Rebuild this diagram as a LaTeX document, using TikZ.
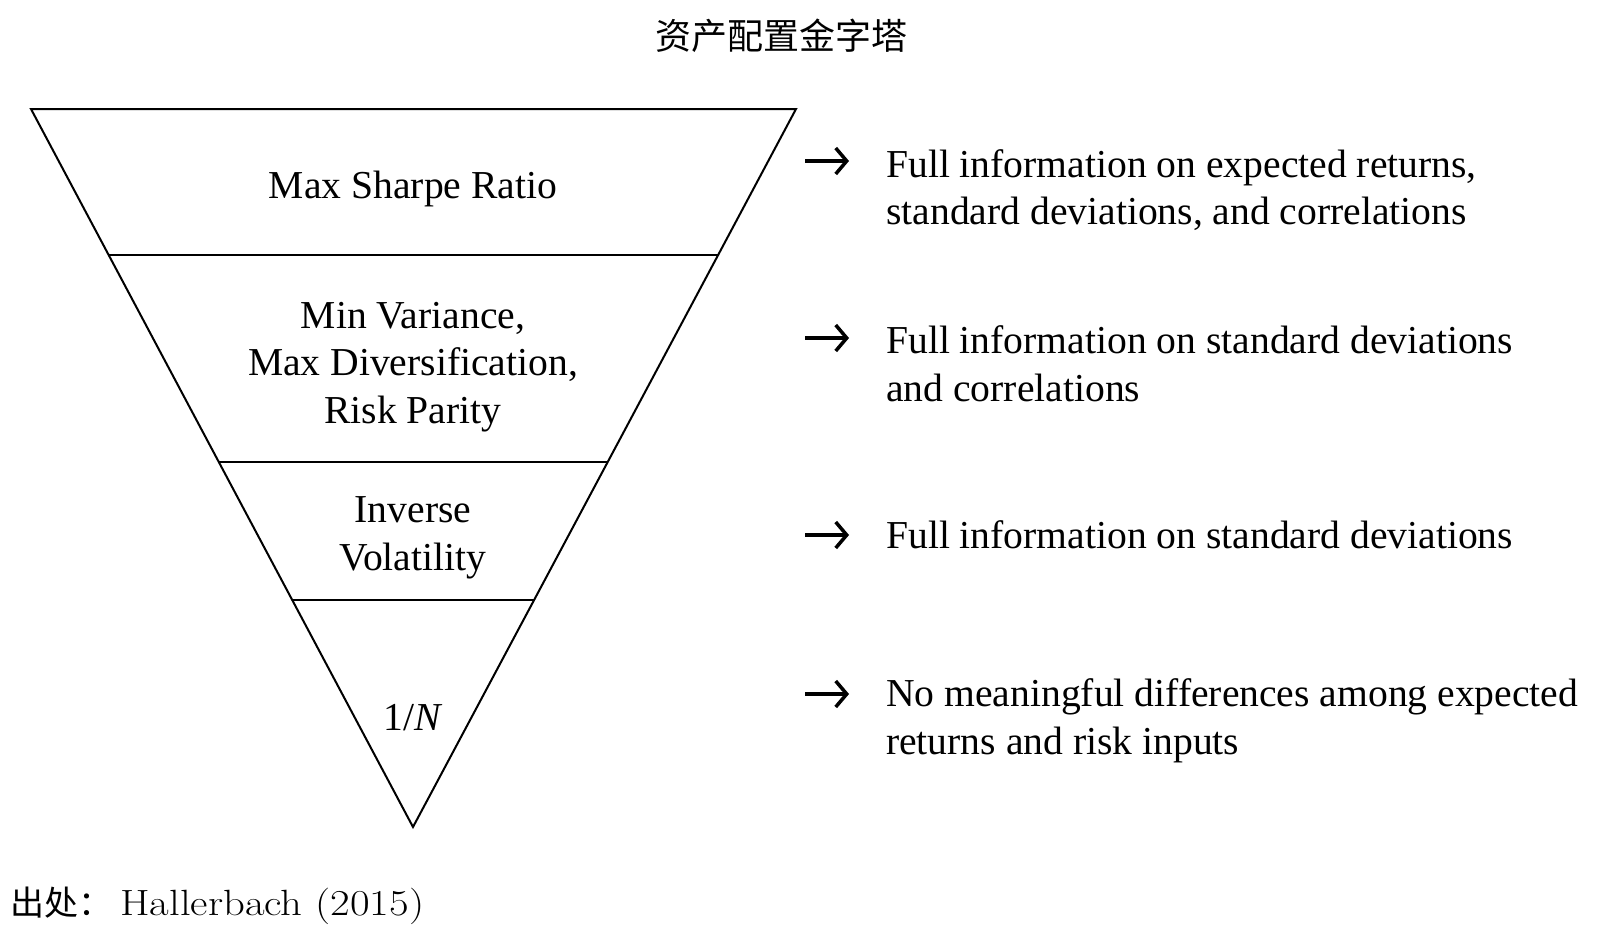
\documentclass[tikz,border=0pt]{standalone}
\usepackage{fontspec}
\usetikzlibrary{arrows.meta}
\setmainfont{Liberation Serif}
\newfontfamily\cjk{Noto Sans CJK SC}
\newfontfamily\cmwide[FakeStretch=1.17]{Latin Modern Roman}
\begin{document}
\begin{tikzpicture}[x=1pt,y=-1pt,
  tri/.style={line width=2pt, line join=miter},
  tritext/.style={font=\fontsize{39.6}{47.8}\selectfont, align=center, inner sep=0pt},
  desc/.style={font=\fontsize{39.6}{47.8}\selectfont, align=left, anchor=west, inner sep=0pt},
  arr/.style={line width=3.5pt, -{Straight Barb[length=11pt,width=26pt,line width=3.5pt]}}]
\useasboundingbox (0,0) rectangle (1600,938);
% title
\node[font=\cjk\fontsize{36}{40}\selectfont] (title) at (781,36) {资产配置金字塔};
% triangle
\coordinate (TL) at (31,109);
\coordinate (TR) at (796,109);
\coordinate (B) at (413,827);
\draw[tri] (TL) -- (TR) -- (B) -- cycle;
% division lines
\draw[tri] (108.7,255) -- (718.1,255);
\draw[tri] (218.8,462) -- (607.7,462);
\draw[tri] (292.3,600) -- (534.1,600);
% triangle texts
\node[tritext] (t1) at (413,189) {Max Sharpe Ratio};
\node[tritext] (t2) at (413,367) {Min Variance,\\Max Diversification,\\Risk Parity};
\node[tritext] (t3) at (413,538) {Inverse\\Volatility};
\node[tritext] (t4) at (413,718) {1/\textit{N}};
% arrows
\foreach \n/\y in {1/161,2/338,3/535,4/694}{
  \coordinate (a\n s) at (805,\y);
  \coordinate (a\n e) at (849,\y);
  \draw[arr] (a\n s) -- (a\n e);
}
% descriptions
\node[desc] (d1) at (886,190) {Full information on expected returns,\\standard deviations, and correlations};
\node[desc] (d2) at (886,364) {Full information on standard deviations\\and correlations};
\node[desc] (d3) at (886,535) {Full information on standard deviations};
\node[desc] (d4) at (886,721) {No meaningful differences among expected\\returns and risk inputs};
% source
\node[anchor=west, inner sep=0pt] (src) at (10,906) {{\cjk\fontsize{34}{40}\selectfont 出处：}\hspace{8pt}{\cmwide\fontsize{36.5}{40}\selectfont Hallerbach (2015)}};
\end{tikzpicture}
\end{document}
